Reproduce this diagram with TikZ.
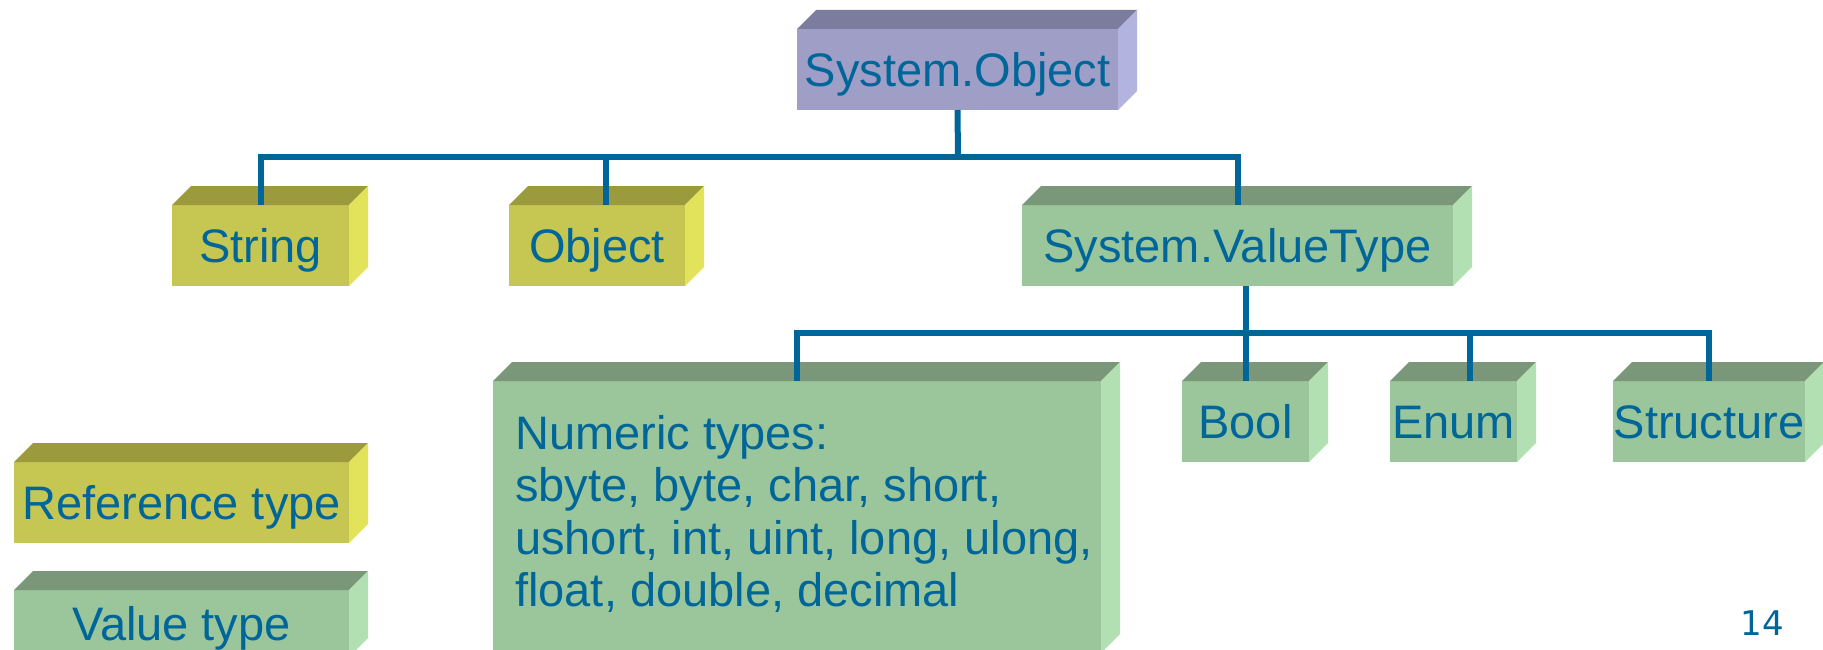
\documentclass[tikz,border=0pt]{standalone}
\usepackage{fontspec}
\setmainfont{Liberation Sans}
\newfontfamily\numfont{DejaVu Sans}
\definecolor{txtblue}{HTML}{006699}
\definecolor{linecol}{HTML}{006699}
\definecolor{pfront}{HTML}{9E9EC6}
\definecolor{ptop}{HTML}{7C7C9E}
\definecolor{pside}{HTML}{B3B3E0}
\definecolor{yfront}{HTML}{C6C652}
\definecolor{ytop}{HTML}{9B9B3D}
\definecolor{yside}{HTML}{E3E35B}
\definecolor{gfront}{HTML}{9BC59B}
\definecolor{gtop}{HTML}{7A977A}
\definecolor{gside}{HTML}{B3E0B3}
\tikzset{
  boxnode/.style={rectangle, inner sep=0pt, outer sep=0pt, anchor=north west,
    text=txtblue, font=\fontsize{47}{52}\selectfont,
    text height=33.6pt, text depth=0pt, minimum height=81pt},
  ybox/.style={boxnode, fill=yfront},
  gbox/.style={boxnode, fill=gfront},
  pbox/.style={boxnode, fill=pfront},
  conn/.style={draw=linecol, line width=6pt, line join=miter},
}
\newcommand{\boxfaces}[3]{%
  \fill[#2] (#1.north west) -- ++(19,-19) -- ([shift={(19,-19)}]#1.north east) -- (#1.north east) -- cycle;
  \fill[#3] (#1.north east) -- ++(19,-19) -- ([shift={(19,-19)}]#1.south east) -- (#1.south east) -- cycle;
}
\begin{document}
\begin{tikzpicture}[x=1pt,y=-1pt]
\clip (0,0) rectangle (1823,650);
\fill[white] (0,0) rectangle (1823,650);

% boxes
\node[pbox, minimum width=321pt] (sysobj) at (797,29) {System.Object};
\boxfaces{sysobj}{ptop}{pside}
\node[ybox, minimum width=177pt] (string) at (172,205) {String};
\boxfaces{string}{ytop}{yside}
\node[ybox, minimum width=176pt] (object) at (509,205) {Object};
\boxfaces{object}{ytop}{yside}
\node[gbox, minimum width=431pt] (vt) at (1022,205) {System.ValueType};
\boxfaces{vt}{gtop}{gside}
\node[gbox, minimum width=608pt, minimum height=272pt] (numeric) at (493,381) {};
\boxfaces{numeric}{gtop}{gside}
\node[gbox, minimum width=127pt] (bool) at (1182,381) {Bool};
\boxfaces{bool}{gtop}{gside}
\node[gbox, minimum width=127pt] (enum) at (1390,381) {Enum};
\boxfaces{enum}{gtop}{gside}
\node[gbox, minimum width=192pt] (structure) at (1613,381) {Structure};
\boxfaces{structure}{gtop}{gside}
\node[ybox, minimum width=335pt] (reftype) at (14,462) {Reference type};
\boxfaces{reftype}{ytop}{yside}
\node[gbox, minimum width=335pt, minimum height=67pt] (valtype) at (14,590) {Value type};
\boxfaces{valtype}{gtop}{gside}

\node[anchor=north west, inner sep=0pt, align=left, text=txtblue,
  font=\fontsize{47}{52.5}\selectfont] (numtext) at (515,415)
  {Numeric types:\\sbyte, byte, char, short,\\ushort, int, uint, long, ulong,\\float, double, decimal};

% connectors
\coordinate (bus1) at (958,157);
\coordinate (bus2) at (1246,333);
\draw[conn] (sysobj.south) -- (bus1);
\draw[conn] (string.north) |- (bus1) -| (vt.north);
\draw[conn] ([xshift=9pt]object.north) -- ([xshift=9pt]object.north |- bus1);
\draw[conn] ([xshift=8.5pt]vt.south) -- (bus2);
\draw[conn] (numeric.north) |- (bus2) -| (structure.north);
\draw[conn] (bool.north) -- (bool.north |- bus2);
\draw[conn] ([xshift=16.5pt]enum.north) -- ([xshift=16.5pt]enum.north |- bus2);

\node[text=txtblue, font=\numfont\fontsize{34}{40}\selectfont, inner sep=0pt] (pagenum) at (1762,623) {14};
\end{tikzpicture}
\end{document}
